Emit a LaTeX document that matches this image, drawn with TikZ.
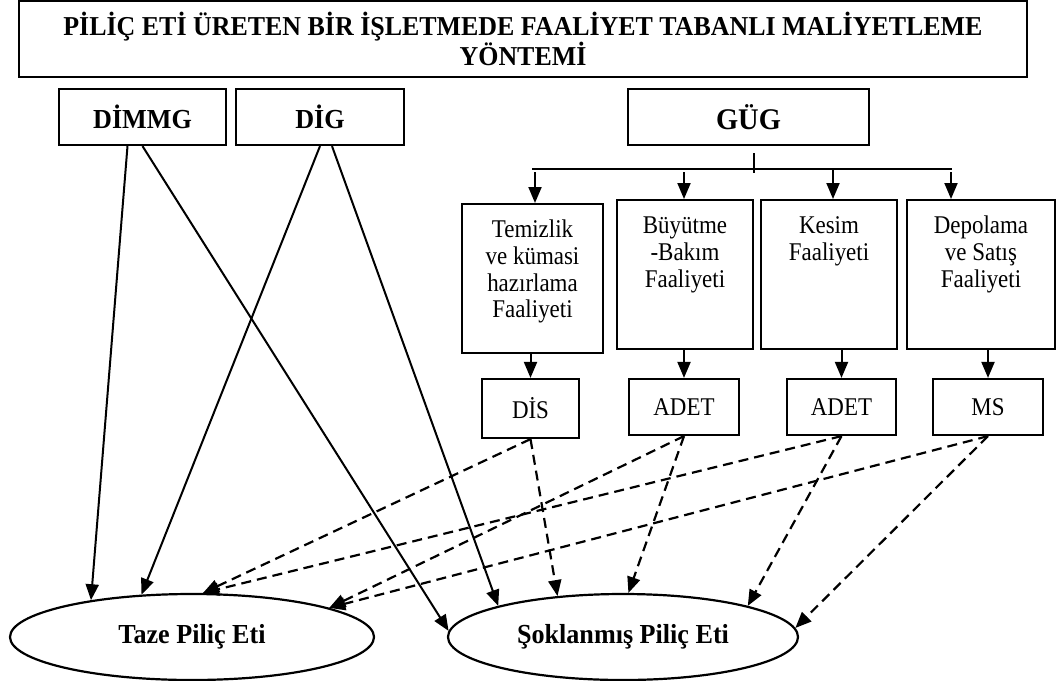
\documentclass[tikz,border=0pt]{standalone}
\usepackage{fontspec}
\setmainfont{Liberation Serif}[FakeStretch=0.9, BoldFeatures={FakeStretch=0.95}]
\usetikzlibrary{positioning,arrows.meta,shapes.geometric}
\tikzset{
  solidarrow/.style={->, line width=2pt},
  dasharrow/.style={->, line width=2.2pt, dash pattern=on 10pt off 6pt},
  titlebox/.style={draw, line width=2.4pt, minimum width=1008pt, minimum height=76pt, align=center, font=\fontsize{27.3}{29}\selectfont\bfseries},
  costbox/.style={draw, line width=2.2pt, minimum height=56pt, inner sep=0pt, font=\fontsize{27.5}{30}\selectfont\bfseries},
  actbox/.style={draw, line width=2.2pt, anchor=north, inner xsep=0pt, inner ysep=15pt, font=\fontsize{25.5}{26.7}\selectfont},
  driverbox/.style={draw, line width=2.2pt, minimum height=56pt, inner sep=0pt, font=\fontsize{25.5}{26}\selectfont},
  prodnode/.style={draw, ellipse, line width=2.2pt, inner sep=0pt, minimum height=86pt, font=\fontsize{27.5}{30}\selectfont\bfseries}
}
\newcommand{\acttext}[2]{\parbox[c][119pt][t]{#1}{\centering\strut #2}}

\begin{document}
\begin{tikzpicture}[>={Triangle[length=16pt,width=13pt]}, x=1pt, y=-1pt]
  \useasboundingbox (0,0) rectangle (1056,680);
  \node[titlebox] (baslik) at (523,39) {PİLİÇ ETİ ÜRETEN BİR İŞLETMEDE FAALİYET TABANLI MALİYETLEME\\YÖNTEMİ};
  \node[costbox, minimum width=167pt] (dimmg) at (142.5,117) {DİMMG};
  \node[costbox, minimum width=168pt] (dig) at (320,117) {DİG};
  \node[costbox, minimum width=241pt, font=\fontsize{30}{32}\selectfont\bfseries] (gug) at (748.5,117) {GÜG};
  % faaliyetler
  \node[actbox] (temizlik) at (532.5,203) {\acttext{141pt}{Temizlik\\ve kümasi\\hazırlama\\Faaliyeti}};
  \node[actbox] (buyutme) at (685,199) {\acttext{136pt}{Büyütme\\-Bakım\\Faaliyeti}};
  \node[actbox] (kesim) at (829,199) {\acttext{136pt}{Kesim\\Faaliyeti}};
  \node[actbox] (depolama) at (981,199) {\acttext{148pt}{Depolama\\ve Satış\\Faaliyeti}};
  % maliyet etkenleri
  \node[driverbox, minimum width=97pt, minimum height=59pt] (dis) at (530.5,408.5) {DİS};
  \node[driverbox, minimum width=110pt] (adet1) at (684,407) {ADET};
  \node[driverbox, minimum width=109pt] (adet2) at (841.5,407) {ADET};
  \node[driverbox, minimum width=110pt] (ms) at (988,407) {MS};
  % urunler
  \node[prodnode, minimum width=364pt] (taze) at (192,637) {Taze Piliç Eti};
  \node[prodnode, minimum width=350pt] (sok) at (623,637) {Şoklanmış Piliç Eti};

  % GUG dagitimi
  \coordinate (gugust) at (754,153);
  \coordinate (gugalt) at (754,173);
  \coordinate (barsol) at (532,169);
  \coordinate (barsag) at (952,169);
  \coordinate (dal1) at (535,172);
  \coordinate (dal2) at (684,172);
  \coordinate (dal3) at (833,169);
  \coordinate (dal4) at (951,172);
  \draw[line width=1.8pt] (gugust) -- (gugalt);
  \draw[line width=2.2pt] (barsol) -- (barsag);
  \draw[solidarrow] (dal1) -- (dal1 |- temizlik.north);
  \draw[solidarrow] (dal2) -- (dal2 |- buyutme.north);
  \draw[solidarrow] (dal3) -- (dal3 |- kesim.north);
  \draw[solidarrow] (dal4) -- (dal4 |- depolama.north);
  \draw[solidarrow] (dis.north |- temizlik.south) -- (dis.north);
  \draw[solidarrow] (adet1.north |- buyutme.south) -- (adet1.north);
  \draw[solidarrow] (adet2.north |- kesim.south) -- (adet2.north);
  \draw[solidarrow] (ms.north |- depolama.south) -- (ms.north);

  % dogrudan giderler
  \draw[solidarrow] ([xshift=-15pt]dimmg.south) -- (taze.160);
  \draw[solidarrow] (dimmg.south) -- (sok.178);
  \draw[solidarrow] (dig.south) -- (taze.140);
  \draw[solidarrow] ([xshift=12pt]dig.south) -- (sok.166);

  % faaliyet maliyetleri
  \draw[dasharrow] (dis.south) -- (taze.76);
  \draw[dasharrow] (dis.south) -- (sok.148);
  \draw[dasharrow] (adet1.south) -- (taze.12);
  \draw[dasharrow] (adet1.south) -- (sok.83);
  \draw[dasharrow] (adet2.south) -- (taze.76);
  \draw[dasharrow] (adet2.south) -- (sok.14);
  \draw[dasharrow] (ms.south) -- (taze.12);
  \draw[dasharrow] (ms.south) -- (sok.3);
\end{tikzpicture}
\end{document}
